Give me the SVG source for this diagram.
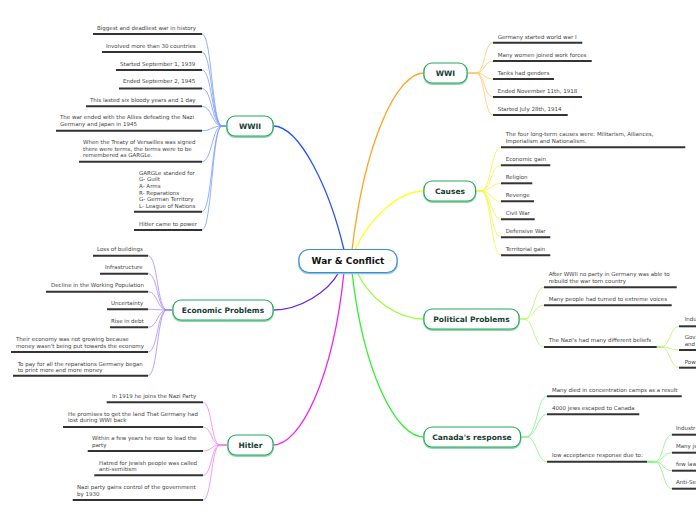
<svg xmlns="http://www.w3.org/2000/svg" width="696" height="520" viewBox="0 0 696 520">
<style>
.bg{fill:#ffffff}
.node{fill:#ffffff;stroke:#26a65b;stroke-width:1.1}
.nshadow{fill:none;stroke:#8fd8ae;stroke-width:2}
.ntext{font-family:"DejaVu Sans","Liberation Sans",sans-serif;font-weight:bold;font-size:7.5px;fill:#163c33;text-anchor:middle}
.ctext{font-family:"DejaVu Sans","Liberation Sans",sans-serif;font-weight:bold;font-size:9px;fill:#111111;text-anchor:middle}
.leaf{font-family:"DejaVu Sans","Liberation Sans",sans-serif;font-size:5.5px;fill:#444444}
.ul{stroke:#333333;stroke-width:2;fill:none}
.main{fill:none;stroke-width:1.3}
.sub{fill:none;stroke-width:0.8}
</style>
<rect class="bg" x="0" y="0" width="696" height="520"/>
<g id="connectors">
  <!-- main branches -->
  <path class="main" stroke="#2255ff" d="M273 126 C300 126,330 190,344 250"/>
  <path class="main" stroke="#ffa31f" d="M424 73 C397 73,365 140,352 250"/>
  <path class="main" stroke="#ffff22" d="M424 191 C398 191,368 220,355 250"/>
  <path class="main" stroke="#99ff33" d="M424 319 C398 319,370 300,357 272"/>
  <path class="main" stroke="#33ee33" d="M424 437 C395 437,363 370,352 272"/>
  <path class="main" stroke="#6622ee" d="M273 310 C300 310,328 292,339 272"/>
  <path class="main" stroke="#ee22ee" d="M273 445 C300 445,333 380,344 272"/>
  <!-- WWII leaves -->
  <g stroke="#7a9cff" class="sub">
    <path d="M227 126 H222 C212 126,212 34,202 34"/>
    <path d="M227 126 H222 C212 126,212 52,202 52"/>
    <path d="M227 126 H222 C212 126,212 70,202 70"/>
    <path d="M227 126 H222 C212 126,212 88.5,202 88.5"/>
    <path d="M227 126 H222 C212 126,212 106.3,202 106.3"/>
    <path d="M227 126 H222 C212 126,212 130.7,202 130.7"/>
    <path d="M227 126 H222 C212 126,212 161.7,202 161.7"/>
    <path d="M227 126 H222 C212 126,212 211.7,202 211.7"/>
    <path d="M227 126 H222 C212 126,212 230,202 230"/>
  </g>
  <!-- Economic leaves -->
  <g stroke="#a98af5" class="sub">
    <path d="M173 310 H167 C157 310,158 255.7,148 255.7"/>
    <path d="M173 310 H167 C157 310,158 273.7,148 273.7"/>
    <path d="M173 310 H167 C157 310,158 291.7,148 291.7"/>
    <path d="M173 310 H167 C157 310,158 309.3,148 309.3"/>
    <path d="M173 310 H167 C157 310,158 327.3,148 327.3"/>
    <path d="M173 310 H167 C157 310,158 352,148 352"/>
    <path d="M173 310 H167 C157 310,158 375.7,148 375.7"/>
  </g>
  <!-- Hitler leaves -->
  <g stroke="#f27ef2" class="sub">
    <path d="M228 445 H220 C211 445,212 402.3,203 402.3"/>
    <path d="M228 445 H220 C211 445,212 427,203 427"/>
    <path d="M228 445 H220 C211 445,212 451,203 451"/>
    <path d="M228 445 H220 C211 445,212 475.3,203 475.3"/>
    <path d="M228 445 H220 C211 445,212 500,203 500"/>
  </g>
  <!-- WWI leaves -->
  <g stroke="#ffc66e" class="sub">
    <path d="M467 73 H476 C485 73,484 42.7,493 42.7"/>
    <path d="M467 73 H476 C485 73,484 61,493 61"/>
    <path d="M467 73 H476 C485 73,484 79,493 79"/>
    <path d="M467 73 H476 C485 73,484 97,493 97"/>
    <path d="M467 73 H476 C485 73,484 115,493 115"/>
  </g>
  <!-- Causes leaves -->
  <g stroke="#f5f53c" class="sub">
    <path d="M476 191 H481 C491 191,491 147.3,501 147.3"/>
    <path d="M476 191 H481 C491 191,491 165.3,501 165.3"/>
    <path d="M476 191 H481 C491 191,491 183.3,501 183.3"/>
    <path d="M476 191 H481 C491 191,491 201.3,501 201.3"/>
    <path d="M476 191 H481 C491 191,491 219.3,501 219.3"/>
    <path d="M476 191 H481 C491 191,491 237.3,501 237.3"/>
    <path d="M476 191 H481 C491 191,491 255.3,501 255.3"/>
  </g>
  <!-- Political leaves -->
  <g stroke="#b5f56e" class="sub">
    <path d="M519 319 H524 C534 319,534 287.3,544 287.3"/>
    <path d="M519 319 H524 C534 319,534 305.3,544 305.3"/>
    <path d="M519 319 H524 C534 319,534 347,544 347"/>
    <path d="M656.7 347 H661 C670 347,670 326.3,679 326.3"/>
    <path d="M656.7 347 H661 C670 347,670 350,679 350"/>
    <path d="M656.7 347 H661 C670 347,670 367.7,679 367.7"/>
  </g>
  <!-- Canada leaves -->
  <g stroke="#7ef57e" class="sub">
    <path d="M521 437 H526 C537 437,537 396.3,547 396.3"/>
    <path d="M521 437 H526 C537 437,537 414.3,547 414.3"/>
    <path d="M521 437 H526 C537 437,537 461.7,547 461.7"/>
    <path d="M647 461.7 H655 C663 461.7,663 434.7,672 434.7"/>
    <path d="M647 461.7 H655 C663 461.7,663 452.7,672 452.7"/>
    <path d="M647 461.7 H655 C663 461.7,663 470.7,672 470.7"/>
    <path d="M647 461.7 H655 C663 461.7,663 488.7,672 488.7"/>
  </g>
  <path stroke="#b5f56e" stroke-width="2" d="M656.7 347 H661"/>
  <path stroke="#7ef57e" stroke-width="2" d="M647 461.7 H655"/>
</g>

<g id="center">
  <rect x="299" y="249.5" width="98" height="23" rx="10" fill="#ffffff" stroke="#8cc3e8" stroke-width="2" transform="translate(0,0.8)"/>
  <rect x="299" y="249.5" width="98" height="23" rx="10" fill="#ffffff" stroke="#3d8ec9" stroke-width="1.1"/>
  <text class="ctext" x="348" y="264.3">War &amp; Conflict</text>
</g>

<g id="wwii">
  <rect class="nshadow" x="227" y="117" width="46" height="20" rx="8"/>
  <rect class="node" x="227" y="116" width="46" height="20" rx="8"/>
  <text class="ntext" x="250" y="128.8">WWII</text>
  <g class="leafs">
    <line class="ul" x1="93" y1="34" x2="202" y2="34"/><text class="leaf" x="97" y="30">Biggest and deadliest war in history</text>
    <line class="ul" x1="102" y1="52" x2="202" y2="52"/><text class="leaf" x="106" y="48">Involved more than 30 countries</text>
    <line class="ul" x1="116" y1="70" x2="202" y2="70"/><text class="leaf" x="120" y="65.7">Started September 1, 1939</text>
    <line class="ul" x1="119" y1="88.5" x2="202" y2="88.5"/><text class="leaf" x="123" y="83.3">Ended September 2, 1945</text>
    <line class="ul" x1="86" y1="106.3" x2="202" y2="106.3"/><text class="leaf" x="90" y="101.7">This lasted six bloody years and 1 day</text>
    <line class="ul" x1="56" y1="130.7" x2="202" y2="130.7"/><text class="leaf" x="60" y="119.3">The war ended with the Allies defeating the Nazi</text><text class="leaf" x="60" y="126">Germany and Japan in 1945</text>
    <line class="ul" x1="79" y1="161.7" x2="202" y2="161.7"/><text class="leaf" x="83" y="144.3">When the Treaty of Versailles was signed</text><text class="leaf" x="83" y="150.5">there were terms, the terms were to be</text><text class="leaf" x="83" y="156.7">remembered as GARGLe.</text>
    <line class="ul" x1="134" y1="211.7" x2="202" y2="211.7"/><text class="leaf" x="139" y="174.7">GARGLe standed for</text><text class="leaf" x="139" y="181.4">G- Guilt</text><text class="leaf" x="139" y="188">A- Arms</text><text class="leaf" x="139" y="194.7">R- Reparations</text><text class="leaf" x="139" y="201.3">G- German Territory</text><text class="leaf" x="139" y="208">L- League of Nations</text>
    <line class="ul" x1="134" y1="230" x2="202" y2="230"/><text class="leaf" x="139" y="226">Hitler came to power</text>
  </g>
</g>

<g id="economic">
  <rect class="nshadow" x="173" y="301" width="100" height="20" rx="8"/>
  <rect class="node" x="173" y="300" width="100" height="20" rx="8"/>
  <text class="ntext" x="223" y="312.8">Economic Problems</text>
  <line class="ul" x1="93" y1="255.7" x2="148" y2="255.7"/><text class="leaf" x="97" y="251">Loss of buildings</text>
  <line class="ul" x1="100" y1="273.7" x2="148" y2="273.7"/><text class="leaf" x="105" y="269">Infrastructure</text>
  <line class="ul" x1="46" y1="291.7" x2="148" y2="291.7"/><text class="leaf" x="51" y="287">Decline in the Working Population</text>
  <line class="ul" x1="107" y1="309.3" x2="148" y2="309.3"/><text class="leaf" x="111" y="305">Uncertainty</text>
  <line class="ul" x1="110" y1="327.3" x2="148" y2="327.3"/><text class="leaf" x="111" y="323">Rise in debt</text>
  <line class="ul" x1="11" y1="352" x2="148" y2="352"/><text class="leaf" x="16" y="340.7">Their economy was not growing because</text><text class="leaf" x="16" y="348">money wasn't being put towards the economy</text>
  <line class="ul" x1="13" y1="375.7" x2="148" y2="375.7"/><text class="leaf" x="17.7" y="366">To pay for all the reparations Germany began</text><text class="leaf" x="17.7" y="372">to print more and more money</text>
</g>

<g id="hitler">
  <rect class="nshadow" x="228" y="436" width="45" height="20" rx="8"/>
  <rect class="node" x="228" y="435" width="45" height="20" rx="8"/>
  <text class="ntext" x="250.5" y="447.8">Hitler</text>
  <line class="ul" x1="106.7" y1="402.3" x2="203" y2="402.3"/><text class="leaf" x="112" y="398">In 1919 he joins the Nazi Party</text>
  <line class="ul" x1="63" y1="427" x2="203" y2="427"/><text class="leaf" x="68" y="416">He promises to get the land That Germany had</text><text class="leaf" x="68" y="422">lost during WWI back</text>
  <line class="ul" x1="87.7" y1="451" x2="203" y2="451"/><text class="leaf" x="92" y="439.7">Within a few years he rose to lead the</text><text class="leaf" x="92" y="447">party</text>
  <line class="ul" x1="94.3" y1="475.3" x2="203" y2="475.3"/><text class="leaf" x="99" y="464.7">Hatred for Jewish people was called</text><text class="leaf" x="99" y="471">anti-semitism</text>
  <line class="ul" x1="72.7" y1="500" x2="203" y2="500"/><text class="leaf" x="77" y="488.7">Nazi party gains control of the government</text><text class="leaf" x="77" y="495.7">by 1930</text>
</g>

<g id="wwi">
  <rect class="nshadow" x="424" y="64" width="43" height="20" rx="8"/>
  <rect class="node" x="424" y="63" width="43" height="20" rx="8"/>
  <text class="ntext" x="445.5" y="75.8">WWI</text>
  <line class="ul" x1="493" y1="42.7" x2="582.3" y2="42.7"/><text class="leaf" x="497.7" y="39.3">Germany started world war I</text>
  <line class="ul" x1="493" y1="61" x2="591.7" y2="61"/><text class="leaf" x="497.7" y="57">Many women joined work forces</text>
  <line class="ul" x1="493" y1="79" x2="554" y2="79"/><text class="leaf" x="497.7" y="75">Tanks had genders</text>
  <line class="ul" x1="493" y1="97" x2="582" y2="97"/><text class="leaf" x="497.7" y="93">Ended November 11th, 1918</text>
  <line class="ul" x1="493" y1="115" x2="567.7" y2="115"/><text class="leaf" x="497.7" y="110.7">Started July 28th, 1914</text>
</g>

<g id="causes">
  <rect class="nshadow" x="424" y="182" width="51.5" height="20" rx="8"/>
  <rect class="node" x="424" y="181" width="51.5" height="20" rx="8"/>
  <text class="ntext" x="450" y="193.8">Causes</text>
  <line class="ul" x1="501" y1="147.3" x2="685.3" y2="147.3"/><text class="leaf" x="505.7" y="136.3">The four long-term causes were: Militarism, Alliances,</text><text class="leaf" x="505.7" y="142.7">Imperialism and Nationalism.</text>
  <line class="ul" x1="501" y1="165.3" x2="550.3" y2="165.3"/><text class="leaf" x="505.7" y="160.7">Economic gain</text>
  <line class="ul" x1="501" y1="183.3" x2="532.3" y2="183.3"/><text class="leaf" x="505.7" y="179">Religion</text>
  <line class="ul" x1="501" y1="201.3" x2="534" y2="201.3"/><text class="leaf" x="505.7" y="197">Revenge</text>
  <line class="ul" x1="501" y1="219.3" x2="534.7" y2="219.3"/><text class="leaf" x="505.7" y="215">Civil War</text>
  <line class="ul" x1="501" y1="237.3" x2="550.3" y2="237.3"/><text class="leaf" x="505.7" y="233">Defensive War</text>
  <line class="ul" x1="501" y1="255.3" x2="550.3" y2="255.3"/><text class="leaf" x="505.7" y="251">Territorial gain</text>
</g>

<g id="political">
  <rect class="nshadow" x="424" y="310" width="95" height="20" rx="8"/>
  <rect class="node" x="424" y="309" width="95" height="20" rx="8"/>
  <text class="ntext" x="471.5" y="321.8">Political Problems</text>
  <line class="ul" x1="544" y1="287.3" x2="676.7" y2="287.3"/><text class="leaf" x="548.7" y="276.3">After WWII no party in Germany was able to</text><text class="leaf" x="548.7" y="283.3">rebuild the war torn country</text>
  <line class="ul" x1="544" y1="305.3" x2="671.7" y2="305.3"/><text class="leaf" x="548.7" y="301">Many people had turned to extreme voices</text>
  <line class="ul" x1="544" y1="347" x2="656.7" y2="347"/><text class="leaf" x="548.7" y="342">The Nazi's had many different beliefs</text>
  <line class="ul" x1="679" y1="326.3" x2="700" y2="326.3"/><text class="leaf" x="684.7" y="321">Indu</text>
  <line class="ul" x1="679" y1="350" x2="700" y2="350"/><text class="leaf" x="684.7" y="338.7">Gov</text><text class="leaf" x="684.7" y="346.3">and</text>
  <line class="ul" x1="679" y1="367.7" x2="700" y2="367.7"/><text class="leaf" x="684.7" y="363.7">Pow</text>
</g>

<g id="canada">
  <rect class="nshadow" x="424" y="428" width="96.5" height="20" rx="8"/>
  <rect class="node" x="424" y="427" width="96.5" height="20" rx="8"/>
  <text class="ntext" x="472" y="439.8">Canada's response</text>
  <line class="ul" x1="547" y1="396.3" x2="681.7" y2="396.3"/><text class="leaf" x="552" y="392.3">Many died in concentration camps as a result</text>
  <line class="ul" x1="547" y1="414.3" x2="639.3" y2="414.3"/><text class="leaf" x="552" y="410">4000 jews escaped to Canada</text>
  <line class="ul" x1="547" y1="461.7" x2="647" y2="461.7"/><text class="leaf" x="552" y="457.3">low acceptance response due to:</text>
  <line class="ul" x1="672" y1="434.7" x2="700" y2="434.7"/><text class="leaf" x="676" y="430">Industr</text>
  <line class="ul" x1="672" y1="452.7" x2="700" y2="452.7"/><text class="leaf" x="676" y="448.3">Many je</text>
  <line class="ul" x1="672" y1="470.7" x2="700" y2="470.7"/><text class="leaf" x="676" y="466">few law</text>
  <line class="ul" x1="672" y1="488.7" x2="700" y2="488.7"/><text class="leaf" x="676" y="484">Anti-Se</text>
</g>
</svg>
